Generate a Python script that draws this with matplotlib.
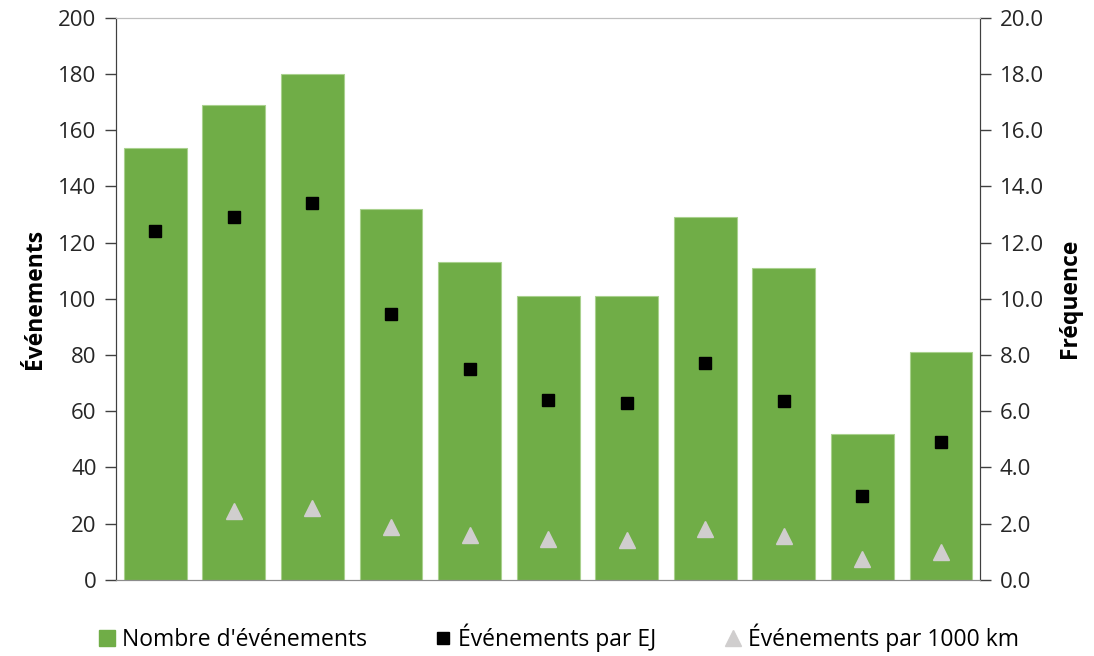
import numpy as np
import matplotlib.pyplot as plt
from matplotlib.lines import Line2D
from matplotlib.patches import Patch

plt.rcParams['font.family'] = ['Open Sans', 'DejaVu Sans']

# Données
nombre_evenements = [153.5, 169, 180, 132, 113, 101, 101, 129, 111, 52, 81]
evenements_par_ej = [12.4, 12.9, 13.4, 9.45, 7.5, 6.4, 6.3, 7.7, 6.35, 3.0, 4.9]
evenements_par_1000km = [np.nan, 2.45, 2.55, 1.87, 1.6, 1.44, 1.43, 1.81, 1.57, 0.73, 1.0]

x = np.arange(len(nombre_evenements))

fig = plt.figure(figsize=(10.94, 6.56), dpi=100)
ax = fig.add_axes([0.106, 0.116, 0.790, 0.857])
ax2 = ax.twinx()

ax.bar(x, nombre_evenements, width=0.8, color='#70AD47', edgecolor='#A9D18E',
       linewidth=0.8, zorder=2)
ax2.plot(x, evenements_par_ej, linestyle='none', marker='s', markersize=8.5,
         color='black', zorder=3)
ax2.plot(x, evenements_par_1000km, linestyle='none', marker='^', markersize=11,
         color='#D0CECE', zorder=3)

ax.set_xlim(-0.5, len(x) - 0.5)
ax.set_ylim(0, 200)
ax2.set_ylim(0, 20)
ax.set_yticks(np.arange(0, 201, 20))
ax2.set_yticks(np.arange(0, 20.1, 2))
ax2.set_yticklabels([f"{v:.1f}" for v in np.arange(0, 20.1, 2)])
ax.set_xticks([])

for a in (ax, ax2):
    a.tick_params(axis='y', labelsize=16, colors='#404040', labelcolor='#262626',
                  length=8, width=1, pad=6)
    a.spines['top'].set_color('#BFBFBF')
    a.spines['bottom'].set_color('#8C8C8C')
    a.spines['left'].set_color('#404040')
    a.spines['right'].set_color('#404040')

ax.set_ylabel("Événements", fontsize=16.5, fontweight='bold', labelpad=8)
ax2.set_ylabel("Fréquence", fontsize=16.5, fontweight='bold', labelpad=10)

handles = [
    Patch(facecolor='#70AD47', edgecolor='#70AD47'),
    Line2D([], [], linestyle='none', marker='s', markersize=9, color='black'),
    Line2D([], [], linestyle='none', marker='^', markersize=11, color='#D0CECE'),
]
labels = ["Nombre d'événements", "Événements par EJ", "Événements par 1000 km"]
fig.legend(handles, labels, loc='center', bbox_to_anchor=(0.511, 0.028), ncol=3,
           frameon=False, fontsize=16.5, handlelength=0.7, handletextpad=0.3,
           columnspacing=3.0)

fig.savefig('out.png', dpi=100)
